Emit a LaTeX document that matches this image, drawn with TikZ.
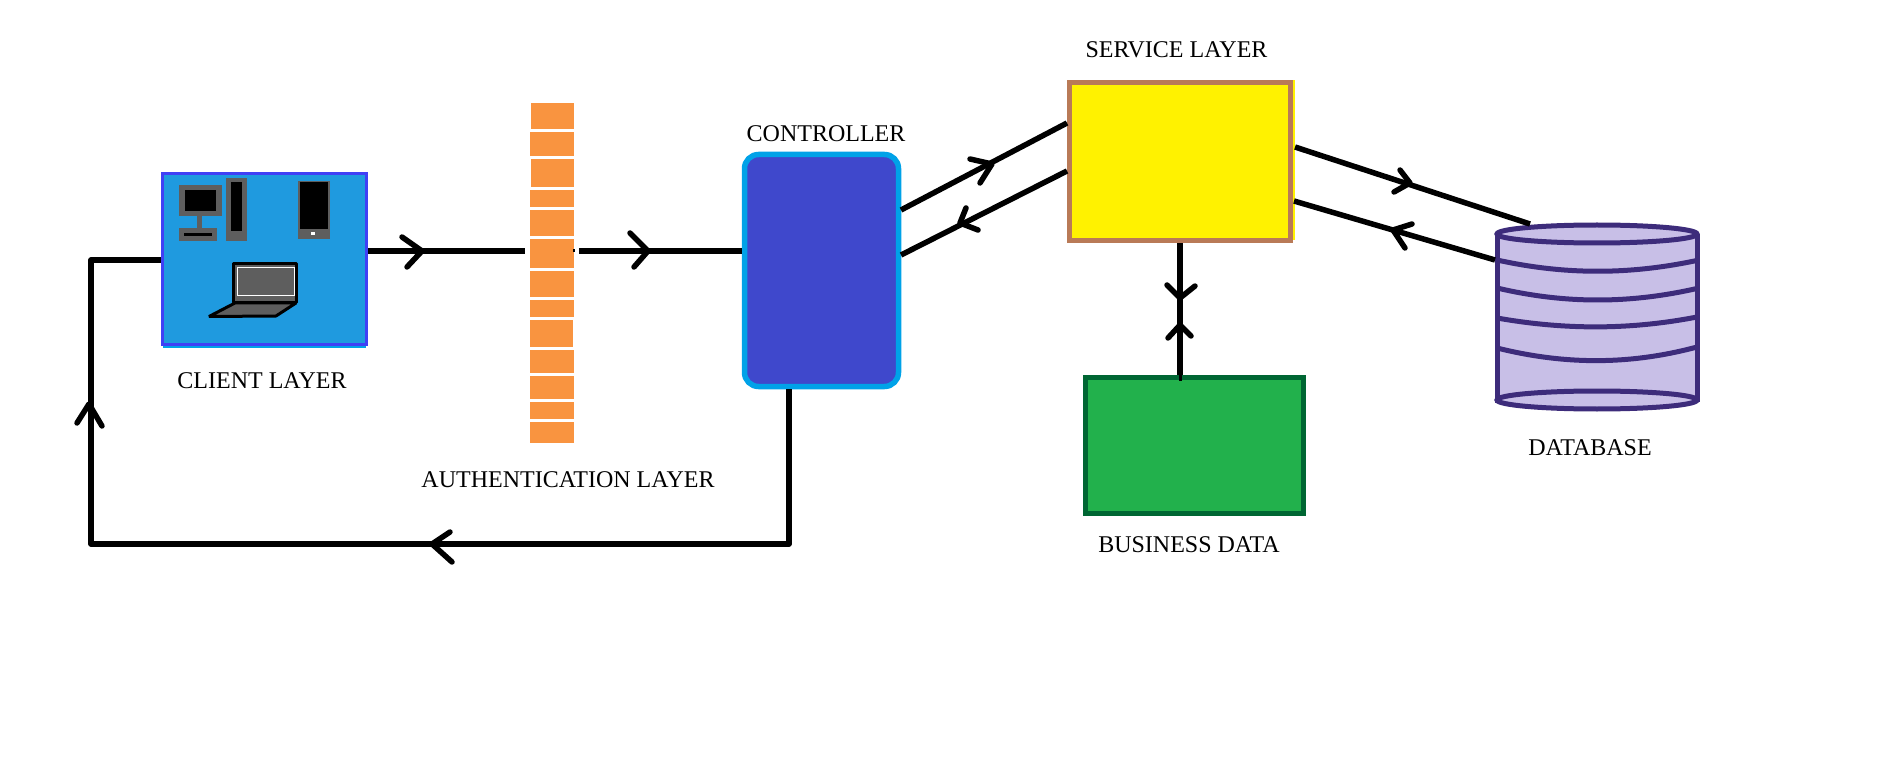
\documentclass[tikz,border=0pt]{standalone}
\usepackage{fontspec}
\setmainfont{Liberation Serif}
\definecolor{clientfill}{HTML}{1F9ADF}
\definecolor{clientedge}{HTML}{4040F5}
\definecolor{brick}{HTML}{F99440}
\definecolor{ctrlfill}{HTML}{3F48CC}
\definecolor{ctrledge}{HTML}{00A2E8}
\definecolor{svcfill}{HTML}{FFF200}
\definecolor{svcedge}{HTML}{B97A57}
\definecolor{bizfill}{HTML}{22B14C}
\definecolor{bizedge}{HTML}{006633}
\definecolor{dbfill}{HTML}{C8BFE7}
\definecolor{dbedge}{HTML}{3D2C7B}
\definecolor{devgrey}{HTML}{5E5E5E}
\tikzset{
  box/.style={rectangle,inner sep=0pt},
  label/.style={inner sep=0pt,font=\fontsize{24}{28}\selectfont},
  wire/.style={line width=5.5pt,black,line join=round},
  barb/.style={line width=5.5pt,black,line cap=round,line join=round},
  devline/.style={draw=black,line width=3pt,line join=bevel},
  dbline/.style={draw=dbedge,line width=5pt},
}
\newcommand{\chevron}[3]{\draw[barb] #1 -- #2 -- #3;}
\begin{document}
\begin{tikzpicture}[x=1pt,y=-1pt]
\useasboundingbox (0,0) rectangle (1885,759);
% client layer
\fill[ctrledge] (163,346) rectangle (366,347.5);
\node[box,draw=clientedge,fill=clientfill,line width=3.5pt,minimum width=204pt,minimum height=171pt] (client) at (264.5,259) {};
% desktop
\fill[devgrey] (179,185) rectangle (222,216);
\fill[black] (185,190) rectangle (216,211);
\fill[devgrey] (197,216) rectangle (202,228);
\fill[devgrey] (179,228) rectangle (217,241);
\fill[black] (184,233) rectangle (212,236);
\fill[devgrey] (226,178) rectangle (247,241);
\fill[black] (231,182) rectangle (242,231);
% phone
\fill[devgrey] (298,181) rectangle (330,239);
\fill[black] (300,182) rectangle (328,229);
\fill[white] (311,232) rectangle (315,235);
% laptop
\fill[devgrey,devline] (235,303) -- (296,303) -- (276,316) -- (209,316.5) -- cycle;
\fill[devgrey,devline] (233.5,263.5) rectangle (296.5,303);
\draw[white,line width=1pt] (237.5,267.5) rectangle (294.5,295.5);
% authentication layer
\node[box,minimum width=44pt,minimum height=340pt] (fw) at (552,273) {};
\foreach \xa/\xb/\ya/\yb in {531/574/103/129,530/574/132/156,531/574/159/187,530/574/190/207,530/574/210/236,530/574/239/268,530/574/271/297,530/574/300/317,530/573/320/347,530/574/350/373,530/574/376/399,530/574/402/419,530/574/422/443}
  \fill[brick] (\xa,\ya) rectangle (\xb,\yb);
% controller
\node[box,draw=ctrledge,fill=ctrlfill,line width=5.5pt,rounded corners=14pt,minimum width=154pt,minimum height=232pt] (controller) at (821.5,270.5) {};
% service layer
\fill[svcfill] (1290,80) rectangle (1295,240);
\node[box,draw=svcedge,fill=svcfill,line width=5.5pt,minimum width=221pt,minimum height=158pt] (service) at (1180,161.5) {};
% business data
\node[box,draw=bizedge,fill=bizfill,line width=5.5pt,minimum width=218pt,minimum height=136pt] (biz) at (1194.5,445.5) {};
% database
\fill[dbfill] (1497,234) -- (1697,234) -- (1697,400) arc[start angle=0,end angle=180,x radius=100pt,y radius=-9pt] -- cycle;
\fill[dbfill] (1597,234) ellipse[x radius=100pt,y radius=11pt];
\draw[dbline] (1497,234) -- (1497,403) (1697,234) -- (1697,402);
\draw[dbline] (1597,234) ellipse[x radius=100pt,y radius=9pt];
\draw[dbline] (1597,400) ellipse[x radius=100pt,y radius=9pt];
\draw[dbline] (1497,260) .. controls (1565,275) and (1630,275) .. (1699,260);
\draw[dbline] (1497,288) .. controls (1565,304) and (1630,304) .. (1699,288);
\draw[dbline] (1497,318) .. controls (1565,330) and (1630,330) .. (1697,317);
\draw[dbline] (1497,348) .. controls (1565,365) and (1630,365) .. (1697,347);
\node[box,minimum width=204pt,minimum height=192pt] (db) at (1597,313) {};
% connector end points
\coordinate (ctrlA) at (901,210);
\coordinate (svcA) at (1067,123);
\coordinate (ctrlB) at (901,255);
\coordinate (svcB) at (1067,171);
\coordinate (svcC) at (1295,147);
\coordinate (dbC) at (1530,224);
\coordinate (svcD) at (1294,201);
\coordinate (dbD) at (1495,260);
\coordinate (loopA) at (91,260);
\coordinate (loopB) at (91,544);
\coordinate (loopC) at (789,544);
% connectors
\draw[wire] (client.east |- 0,251) -- ([xshift=-5pt]fw.west |- 0,251);
\draw[wire] ([xshift=5pt]fw.east |- 0,251) -- (controller.west |- 0,251);
\fill[black] (573,249.5) rectangle (574.5,252.5);
\draw[wire] (ctrlA) -- (svcA);
\draw[wire] (svcB) -- (ctrlB);
\draw[wire] (svcC) -- (dbC);
\draw[wire] (dbD) -- (svcD);
\draw[wire] (1180,0 |- service.south) -- (1180,0 |- biz.north);
\fill[black] (1178.5,375) rectangle (1181.5,381);
\draw[wire] (789,0 |- controller.south) -- (loopC) -- (loopB) -- (loopA) -- (client.west |- loopA);
% arrowheads
\chevron{(402,237)}{(422,251)}{(407,267)}
\chevron{(630,233)}{(648,251)}{(634,267)}
\chevron{(970,159)}{(992,164)}{(980,183)}
\chevron{(966,208)}{(960,223)}{(978,230)}
\chevron{(1400,170)}{(1410,183)}{(1394,192)}
\chevron{(1412,224)}{(1393,230)}{(1405,248)}
\chevron{(1167,285)}{(1180,298)}{(1195,286)}
\chevron{(1168,338)}{(1180,325)}{(1191,336)}
\chevron{(450,532)}{(432,544)}{(452,562)}
\chevron{(77,423)}{(89,404)}{(102,426)}
% labels
\node[label] (clientlabel) at (262,381) {CLIENT LAYER};
\node[label] (authlabel) at (568,480) {AUTHENTICATION LAYER};
\node[label] (ctrllabel) at (826,134) {CONTROLLER};
\node[label] (svclabel) at (1176.5,50) {SERVICE LAYER};
\node[label] (bizlabel) at (1189,545) {BUSINESS DATA};
\node[label] (dblabel) at (1590,448) {DATABASE};
\end{tikzpicture}
\end{document}
